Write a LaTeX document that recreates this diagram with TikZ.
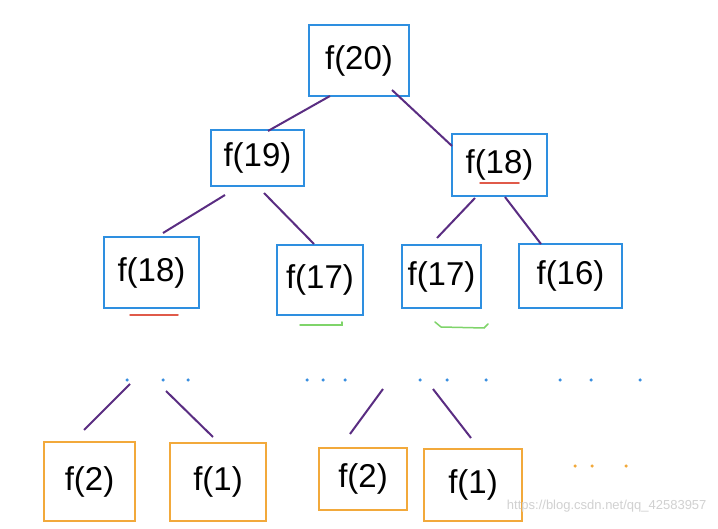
\documentclass[tikz,border=0pt]{standalone}
\usepackage{fontspec}
\setmainfont{Liberation Sans}
\definecolor{boxblue}{HTML}{2E8FE0}
\definecolor{boxorange}{HTML}{F2A93B}
\definecolor{edgepurple}{HTML}{5A2D82}
\definecolor{mark}{HTML}{3A8FE0}
\definecolor{ulred}{HTML}{E05A4A}
\definecolor{ulgreen}{HTML}{7FD46A}
\begin{document}
\begin{tikzpicture}[x=1pt,y=-1pt,
  bbox/.style={draw=boxblue,line width=2.6pt,inner sep=0pt,font=\fontsize{33}{36}\selectfont},
  obox/.style={draw=boxorange,line width=2.6pt,inner sep=0pt,font=\fontsize{33}{36}\selectfont},
  edge/.style={draw=edgepurple,line width=2pt},
  dot/.style={fill=mark,circle,inner sep=0pt,minimum size=3.5pt},
  odot/.style={fill=boxorange,circle,inner sep=0pt,minimum size=3.5pt},
  ul/.style={line width=1.5pt,line cap=round}]
\useasboundingbox (0,0) rectangle (718,529);
\fill[white] (0,0) rectangle (718,529);
% level 0
\node[bbox,minimum width=100pt,minimum height=71pt] (n20) at (359,60.5) {f(20)};
% level 1
\node[bbox,minimum width=93pt,minimum height=56pt] (n19) at (257.5,158) {f(19)};
\node[bbox,minimum width=95pt,minimum height=62pt] (n18r) at (499.5,165) {f(18)};
% level 2
\node[bbox,minimum width=95pt,minimum height=71pt] (n18l) at (151.5,272.5) {f(18)};
\node[bbox,minimum width=86pt,minimum height=70pt] (n17a) at (320,280) {f(17)};
\node[bbox,minimum width=79pt,minimum height=63pt] (n17b) at (441.5,276.5) {f(17)};
\node[bbox,minimum width=103pt,minimum height=64pt] (n16) at (570.5,276) {f(16)};
% level bottom
\node[obox,minimum width=91pt,minimum height=79pt] (b2a) at (89.5,481.5) {f(2)};
\node[obox,minimum width=96pt,minimum height=78pt] (b1a) at (218,482) {f(1)};
\node[obox,minimum width=88pt,minimum height=62pt] (b2b) at (363,479) {f(2)};
\node[obox,minimum width=98pt,minimum height=72pt] (b1b) at (473,485) {f(1)};
% connector end points
\coordinate (e1a) at (330,96);  \coordinate (e1b) at (268,131);
\coordinate (e2a) at (392,90);  \coordinate (e2b) at (452,146);
\coordinate (e3a) at (225,195); \coordinate (e3b) at (163,233);
\coordinate (e4a) at (264,193); \coordinate (e4b) at (314,244);
\coordinate (e5a) at (475,198); \coordinate (e5b) at (437,238);
\coordinate (e6a) at (505,197); \coordinate (e6b) at (541,244);
\coordinate (e7a) at (130,384); \coordinate (e7b) at (84,430);
\coordinate (e8a) at (166,391); \coordinate (e8b) at (213,437);
\coordinate (e9a) at (383,389); \coordinate (e9b) at (350,434);
\coordinate (e10a) at (433,389); \coordinate (e10b) at (471,438);
\draw[edge] (e1a) -- (e1b);
\draw[edge] (e2a) -- (e2b);
\draw[edge] (e3a) -- (e3b);
\draw[edge] (e4a) -- (e4b);
\draw[edge] (e5a) -- (e5b);
\draw[edge] (e6a) -- (e6b);
\draw[edge] (e7a) -- (e7b);
\draw[edge] (e8a) -- (e8b);
\draw[edge] (e9a) -- (e9b);
\draw[edge] (e10a) -- (e10b);
% underlines
\draw[ul,ulred] (130,315) -- (178,315);
\draw[ul,ulgreen] (300,325) -- (342,325) -- (342,322);
\draw[ul,ulgreen] (435,322) -- (441,327) -- (484,328) -- (488,324);
\draw[ul,ulred] (480,183) -- (519,183);
% ellipsis marks
\foreach \x/\n in {127/m1,163/m2,188/m3,307/m4,323/m5,345/m6,420/m7,447/m8,486/m9,560/m10,591/m11,640/m12}
  \node[dot] (\n) at (\x,380) {};
\foreach \x/\n in {575/o1,592/o2,626/o3}
  \node[odot] (\n) at (\x,466) {};
% watermark
\node[text=black!18,font=\fontsize{13}{15}\selectfont,anchor=east] (wm) at (710,506) {https://blog.csdn.net/qq\_42583957};
\end{tikzpicture}
\end{document}
